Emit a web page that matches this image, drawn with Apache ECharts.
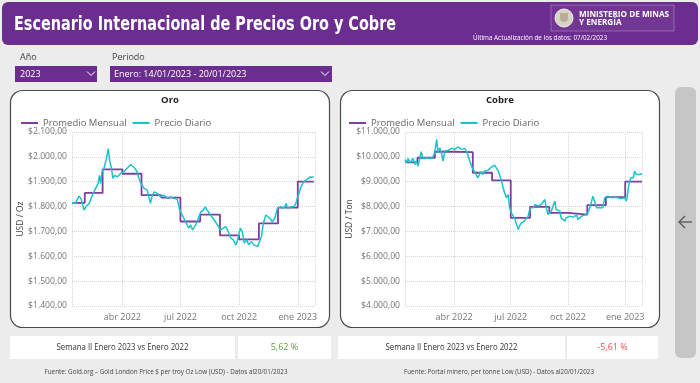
<!DOCTYPE html>
<html><head><meta charset="utf-8">
<script src="https://cdn.jsdelivr.net/npm/echarts@6/dist/echarts.min.js"></script>
<style>html,body{margin:0;padding:0;background:#ececec;}#c{width:700px;height:383px;}</style>
</head><body><div id="c"></div>
<script>
// ---------- DATA ----------
const monthNames = ['ene','feb','mar','abr','may','jun','jul','ago','sep','oct','nov','dic'];
const xMin = '2022-01-12', xMax = '2023-01-28';

const goldMonthly = [['2022-01-12',1815],['2022-02-01',1855],['2022-03-01',1950],['2022-04-01',1932],['2022-05-01',1846],['2022-06-01',1836],['2022-07-01',1740],['2022-08-01',1768],['2022-09-01',1684],['2022-10-01',1668],['2022-11-01',1732],['2022-12-01',1796],['2023-01-01',1900],['2023-01-26',1900]];
const goldDaily = [['2022-01-12',1815],['2022-01-17',1812],['2022-01-20',1819],['2022-01-23',1842],['2022-01-26',1833],['2022-01-28',1839],['2022-01-31',1786],['2022-02-03',1799],['2022-02-08',1813],['2022-02-13',1846],['2022-02-18',1873],['2022-02-22',1893],['2022-02-24',1926],['2022-02-26',1893],['2022-02-28',1939],['2022-03-03',1953],['2022-03-07',1993],['2022-03-10',2033],['2022-03-12',1986],['2022-03-15',1953],['2022-03-17',1913],['2022-03-20',1926],['2022-03-24',1919],['2022-03-29',1933],['2022-04-03',1939],['2022-04-08',1953],['2022-04-14',1969],['2022-04-16',1973],['2022-04-21',1953],['2022-04-24',1939],['2022-04-27',1913],['2022-04-30',1893],['2022-05-05',1873],['2022-05-10',1866],['2022-05-15',1813],['2022-05-18',1846],['2022-05-21',1859],['2022-05-26',1853],['2022-05-31',1839],['2022-06-05',1846],['2022-06-11',1833],['2022-06-16',1839],['2022-06-21',1833],['2022-06-26',1829],['2022-06-30',1786],['2022-07-04',1766],['2022-07-09',1739],['2022-07-14',1713],['2022-07-17',1726],['2022-07-20',1706],['2022-07-25',1726],['2022-07-30',1759],['2022-08-02',1779],['2022-08-06',1786],['2022-08-09',1799],['2022-08-12',1786],['2022-08-17',1766],['2022-08-23',1746],['2022-08-28',1726],['2022-09-02',1706],['2022-09-06',1713],['2022-09-10',1719],['2022-09-14',1699],['2022-09-18',1673],['2022-09-22',1666],['2022-09-26',1646],['2022-09-28',1659],['2022-10-03',1713],['2022-10-06',1699],['2022-10-09',1653],['2022-10-13',1666],['2022-10-16',1646],['2022-10-20',1659],['2022-10-24',1646],['2022-10-30',1639],['2022-11-01',1646],['2022-11-05',1679],['2022-11-08',1733],['2022-11-12',1766],['2022-11-15',1773],['2022-11-18',1753],['2022-11-22',1739],['2022-11-26',1753],['2022-11-30',1793],['2022-12-02',1786],['2022-12-06',1799],['2022-12-10',1793],['2022-12-14',1813],['2022-12-16',1793],['2022-12-21',1799],['2022-12-26',1799],['2022-12-29',1813],['2022-12-31',1833],['2023-01-03',1853],['2023-01-05',1873],['2023-01-10',1899],['2023-01-13',1906],['2023-01-17',1913],['2023-01-21',1919],['2023-01-24',1926],['2023-01-26',1919]];

const copperMonthly = [['2022-01-12',9776],['2022-02-01',9964],['2022-03-01',10206],['2022-04-01',10190],['2022-05-01',9360],['2022-06-01',9050],['2022-07-01',7546],['2022-08-01',7990],['2022-09-01',7748],['2022-10-01',7680],['2022-11-01',8058],['2022-12-01',8380],['2023-01-01',9000],['2023-01-28',9000]];
const copperDaily = [['2022-01-12',9896],['2022-01-14',9763],['2022-01-17',9936],['2022-01-20',9763],['2022-01-22',9831],['2022-01-25',9936],['2022-01-28',9694],['2022-01-30',9831],['2022-02-02',9630],['2022-02-07',10206],['2022-02-10',9936],['2022-02-15',9964],['2022-02-21',9936],['2022-02-26',9992],['2022-03-01',10206],['2022-03-04',10700],['2022-03-06',10166],['2022-03-09',10367],['2022-03-12',10098],['2022-03-14',9831],['2022-03-17',10234],['2022-03-22',10260],['2022-03-28',10340],['2022-04-02',10300],['2022-04-07',10396],['2022-04-13',10300],['2022-04-18',10340],['2022-04-22',10166],['2022-04-26',9831],['2022-05-01',9493],['2022-05-05',9360],['2022-05-09',9150],['2022-05-14',9400],['2022-05-17',9290],['2022-05-20',9428],['2022-05-25',9453],['2022-05-31',9590],['2022-06-05',9670],['2022-06-08',9723],['2022-06-11',9428],['2022-06-16',9025],['2022-06-21',8554],['2022-06-24',8352],['2022-06-27',8485],['2022-06-29',7950],['2022-07-02',7748],['2022-07-07',7546],['2022-07-13',7075],['2022-07-15',7212],['2022-07-18',7345],['2022-07-23',7413],['2022-07-29',7615],['2022-08-01',7950],['2022-08-06',7950],['2022-08-09',8083],['2022-08-14',8018],['2022-08-19',8083],['2022-08-25',8284],['2022-08-27',7950],['2022-08-30',7680],['2022-09-04',7816],['2022-09-10',8219],['2022-09-12',7881],['2022-09-18',7816],['2022-09-20',7546],['2022-09-26',7413],['2022-09-28',7546],['2022-10-04',7615],['2022-10-09',7575],['2022-10-15',7655],['2022-10-17',7478],['2022-10-23',7615],['2022-10-28',7655],['2022-11-02',7748],['2022-11-05',7950],['2022-11-08',8219],['2022-11-10',8421],['2022-11-13',8352],['2022-11-16',7950],['2022-11-21',7950],['2022-11-26',7950],['2022-11-29',8352],['2022-12-04',8421],['2022-12-10',8352],['2022-12-15',8379],['2022-12-20',8352],['2022-12-26',8325],['2022-12-31',8352],['2023-01-03',8219],['2023-01-07',8889],['2023-01-10',9158],['2023-01-14',9158],['2023-01-16',9428],['2023-01-19',9290],['2023-01-22',9360],['2023-01-24',9290],['2023-01-28',9320]];

const seriesNames = ['Promedio Mensual','Precio Diario'];
const chartTitles = ['Oro','Cobre'];
const yNames = ['USD / Oz','USD / Ton'];
const cardLabel = 'Semana II Enero 2023 vs Enero 2022';
const cardValues = ['5,62 %','-5,61 %'];
const sources = ['Fuente: Gold.org – Gold London Price $ per troy Oz Low (USD) - Datos al20/01/2023','Fuente: Portal minero, per tonne Low (USD) - Datos al20/01/2023'];

// ---------- STYLE ----------
const PURPLE = '#6b2d90', LINE_PURPLE = '#7e3f9d', CYAN = '#19c3cc';
const FONT = "'Segoe UI','Open Sans',sans-serif";
const NARROW = "'Liberation Sans Narrow','DejaVu Sans Condensed',sans-serif";
const mctx = document.createElement('canvas').getContext('2d');
function fit(text, font, w){ mctx.font = font; return w / mctx.measureText(text).width; }

function money(v){
  const s = Math.round(v).toString().replace(/\B(?=(\d{3})+(?!\d))/g,'.');
  return '$' + s + ',00';
}
function dateLabel(v){ const d = new Date(v); return monthNames[d.getMonth()] + ' ' + d.getFullYear(); }

function xAxis(i){
  return {type:'time', gridIndex:i, min:xMin, max:xMax, splitNumber:4,
    minInterval: 80*86400000, maxInterval: 100*86400000,
    axisLine:{show:false}, axisTick:{show:false},
    axisLabel:{formatter:dateLabel, color:'#777', fontSize:9, fontFamily:FONT, margin:7},
    splitLine:{show:true, lineStyle:{type:'dotted', color:'#d6d6d6'}}};
}
function yAxis(i, min, max, interval, gap){
  return {type:'value', gridIndex:i, min, max, interval, name:yNames[i], nameLocation:'middle', nameGap:gap,
    nameMoveOverlap:false,
    nameTextStyle:{color:'#444', fontSize:8.5, fontFamily:FONT},
    axisLine:{show:false}, axisTick:{show:false},
    axisLabel:{formatter:money, color:'#777', fontSize:8.6, fontFamily:FONT, margin:5},
    splitLine:{show:true, lineStyle:{type:'dotted', color:'#d6d6d6'}}};
}
function lineSeries(name, i, data, color, width, step){
  const s = {name, type:'line', xAxisIndex:i, yAxisIndex:i, data, symbol:'none', showSymbol:false,
    lineStyle:{color, width}, itemStyle:{color}, animation:false, z:step?3:4};
  if (step) s.step = 'end';
  return s;
}

const titleFont = 'bold 20px ' + NARROW;
const g = [];
// header
g.push({type:'rect', shape:{x:2,y:2,width:696,height:43,r:6}, style:{fill:PURPLE}, z:1});
g.push({type:'text', x:14, y:25, scaleX:fit('Escenario Internacional de Precios Oro y Cobre', titleFont, 382),
  style:{text:'Escenario Internacional de Precios Oro y Cobre', font:titleFont, fill:'#fff', textVerticalAlign:'middle'}, z:2});
g.push({type:'rect', shape:{x:551,y:5,width:123,height:26}, style:{fill:'rgba(255,255,255,0.05)', stroke:'rgba(255,255,255,0.25)', lineWidth:1}, z:2});
g.push({type:'circle', shape:{cx:564,cy:18,r:9}, style:{fill:'#d9d2c6', stroke:'#f3efe6', lineWidth:1}, z:3});
g.push({type:'rect', shape:{x:560,y:13,width:8,height:9,r:[0,0,4,4]}, style:{fill:'#b9ad9a'}, z:4});
const mFont = 'bold 8.5px ' + FONT;
g.push({type:'text', x:579, y:14.5, scaleX:fit('MINISTERIO DE MINAS', mFont, 90), style:{text:'MINISTERIO DE MINAS', font:mFont, fill:'#fff', textVerticalAlign:'middle'}, z:3});
g.push({type:'text', x:579, y:23, scaleX:fit('MINISTERIO DE MINAS', mFont, 90), style:{text:'Y ENERGÍA', font:mFont, fill:'#fff', textVerticalAlign:'middle'}, z:3});
const uFont = '7px ' + FONT;
const uText = 'Última Actualización de los datos: 07/02/2023';
g.push({type:'text', x:473, y:38, scaleX:fit(uText, uFont, 134), style:{text:uText, font:uFont, fill:'#fff', textVerticalAlign:'middle'}, z:3});
// slicers
const sFont = '9px ' + FONT;
g.push({type:'text', x:20, y:57, style:{text:'Año', font:sFont, fill:'#444', textVerticalAlign:'middle'}});
g.push({type:'text', x:112, y:57, style:{text:'Periodo', font:sFont, fill:'#444', textVerticalAlign:'middle'}});
g.push({type:'rect', shape:{x:15,y:66,width:82,height:16}, style:{fill:PURPLE}});
g.push({type:'rect', shape:{x:110,y:66,width:222,height:16}, style:{fill:PURPLE}});
g.push({type:'text', x:20, y:74.5, style:{text:'2023', font:sFont, fill:'#fff', textVerticalAlign:'middle'}, z:2});
g.push({type:'text', x:114, y:74.5, style:{text:'Enero: 14/01/2023 - 20/01/2023', font:sFont, fill:'#fff', textVerticalAlign:'middle'}, z:2});
g.push({type:'polyline', shape:{points:[[87,71.5],[91,75.5],[95,71.5]]}, style:{stroke:'#fff', lineWidth:1, fill:null}, z:2});
g.push({type:'polyline', shape:{points:[[321,71.5],[325,75.5],[329,71.5]]}, style:{stroke:'#fff', lineWidth:1, fill:null}, z:2});
// panels
[10, 340].forEach((px, i) => {
  g.push({type:'rect', shape:{x:px+0.5,y:90.5,width:319,height:237,r:12}, style:{fill:'#fff', stroke:'#4a4a4a', lineWidth:1.2}, z:-10});
  g.push({type:'text', x:px+160, y:100, style:{text:chartTitles[i], font:'bold 9.5px '+FONT, fill:'#252423', textAlign:'center', textVerticalAlign:'middle'}});
});
// cards
const cFont = '8.5px ' + FONT;
[[10,225,238,93],[338,227,567,91]].forEach((c, i) => {
  g.push({type:'rect', shape:{x:c[0],y:336,width:c[1],height:23}, style:{fill:'#fff'}});
  g.push({type:'rect', shape:{x:c[2],y:336,width:c[3],height:23}, style:{fill:'#fff'}});
  g.push({type:'text', x:c[0]+c[1]/2, y:347.5, scaleX:fit(cardLabel, cFont, 132), style:{text:cardLabel, font:cFont, fill:'#333', textAlign:'center', textVerticalAlign:'middle'}, z:2});
  g.push({type:'text', x:c[2]+c[3]/2, y:347.5, style:{text:cardValues[i], font:'9px '+FONT, fill:i===0?'#5c9e3c':'#e8504b', textAlign:'center', textVerticalAlign:'middle'}, z:2});
});
// sources
const fFont = '6.5px ' + FONT;
g.push({type:'text', x:166, y:372, scaleX:fit(sources[0], fFont, 243), style:{text:sources[0], font:fFont, fill:'#444', textAlign:'center', textVerticalAlign:'middle'}});
g.push({type:'text', x:499, y:372, scaleX:fit(sources[1], fFont, 190), style:{text:sources[1], font:fFont, fill:'#444', textAlign:'center', textVerticalAlign:'middle'}});
// side navigation bar
g.push({type:'rect', shape:{x:675,y:87,width:21,height:271,r:6}, style:{fill:'#c6c6c6'}});
g.push({type:'polyline', shape:{points:[[679,222],[692,222]]}, style:{stroke:'#555', lineWidth:1.3, fill:null}, z:2});
g.push({type:'polyline', shape:{points:[[685,216],[679,222],[685,228]]}, style:{stroke:'#555', lineWidth:1.3, fill:null}, z:2});

const legendBase = {icon:'rect', itemWidth:17, itemHeight:2, itemGap:6, top:113, textStyle:{color:'#666', fontSize:9.5, fontFamily:FONT}, data:seriesNames};

const option = {
  backgroundColor:'#ececec',
  animation:false,
  graphic:g,
  legend:[Object.assign({left:16}, legendBase), Object.assign({left:344}, legendBase)],
  grid:[{left:72, top:132, width:243, height:174}, {left:405, top:132, width:237, height:174}],
  xAxis:[xAxis(0), xAxis(1)],
  yAxis:[yAxis(0,1400,2100,100,47), yAxis(1,4000,11000,1000,51)],
  series:[
    lineSeries(seriesNames[0], 0, goldMonthly, LINE_PURPLE, 1.8, true),
    lineSeries(seriesNames[1], 0, goldDaily, CYAN, 1.5, false),
    lineSeries(seriesNames[0], 1, copperMonthly, LINE_PURPLE, 1.8, true),
    lineSeries(seriesNames[1], 1, copperDaily, CYAN, 1.5, false)
  ]
};
const chart = echarts.init(document.getElementById('c'), null, {renderer:'canvas'});
chart.setOption(option);
</script></body></html>
